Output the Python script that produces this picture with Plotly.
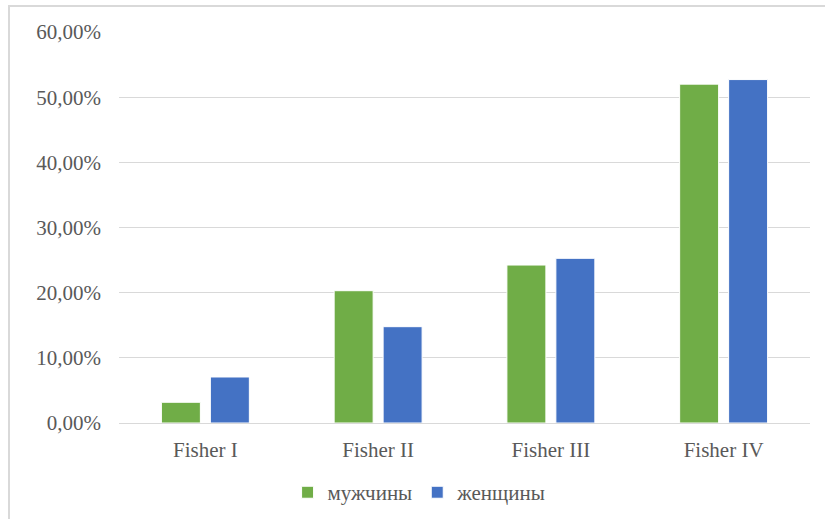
import plotly.graph_objects as go

# Distribution by Fisher grade, share of patients
categories = ["Fisher I", "Fisher II", "Fisher III", "Fisher IV"]
men = [0.0318, 0.2030, 0.2424, 0.5200]
women = [0.0706, 0.1478, 0.2527, 0.5270]
y_ticks = [0, 0.1, 0.2, 0.3, 0.4, 0.5, 0.6]

GREEN = "#70AD47"
BLUE = "#4472C4"
TEXT = "#595959"
GRID = "#D9D9D9"
FONT = "Liberation Serif, Times New Roman, serif"

fig = go.Figure()
fig.add_trace(go.Bar(name="мужчины", x=categories, y=men,
                     marker=dict(color=GREEN, line=dict(color="white", width=1))))
fig.add_trace(go.Bar(name="женщины", x=categories, y=women,
                     marker=dict(color=BLUE, line=dict(color="white", width=1))))

W, H = 825, 519
fig.update_layout(
    width=W, height=H,
    margin=dict(l=119, r=15, t=32, b=96, autoexpand=False),
    paper_bgcolor="white", plot_bgcolor="white",
    separators=", ",
    barmode="group", bargap=0.433, bargroupgap=0.204,
    font=dict(family=FONT, color=TEXT, size=21),
    showlegend=True,
    legend=dict(orientation="h", x=0.435, xanchor="center", y=-0.178, yanchor="middle",
                font=dict(family=FONT, color=TEXT, size=21), itemwidth=30,
                traceorder="normal"),
    xaxis=dict(showgrid=False, showline=True, linecolor=GRID, linewidth=1,
               ticks="", tickfont=dict(family=FONT, color=TEXT, size=21),
               ticklabelstandoff=8, automargin=False),
    yaxis=dict(range=[0, 0.6], tickvals=y_ticks, tickformat=".2%",
               showgrid=True, gridcolor=GRID, gridwidth=1, zeroline=False,
               showline=False, ticks="", ticklabelstandoff=17, automargin=False,
               tickfont=dict(family=FONT, color=TEXT, size=21)),
    shapes=[dict(type="rect", xref="paper", yref="paper",
                 x0=(9 - 119) / (W - 134), x1=(W + 20 - 119) / (W - 134),
                 y0=(H - 96 - H - 20) / (H - 128), y1=(H - 96 - 6) / (H - 128),
                 line=dict(color="#D9D9D9", width=2), fillcolor="rgba(0,0,0,0)",
                 layer="below")],
)

fig.write_html("out.html")
